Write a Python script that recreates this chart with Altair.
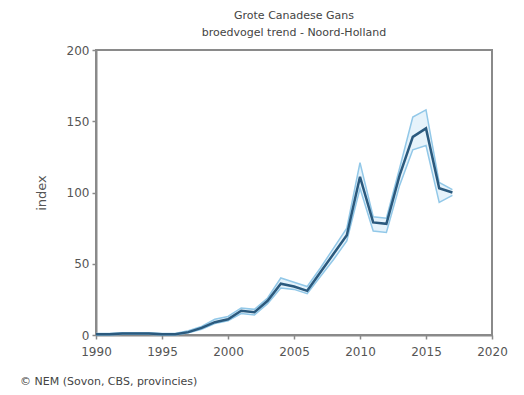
import altair as alt
import pandas as pd

years = list(range(1990, 2018))
index = [0.5, 0.5, 1, 1, 1, 0.5, 0.5, 2, 5, 9, 11, 17, 16, 24, 36, 34, 31, 44, 57, 70,
         111, 79, 78, 112, 139, 145, 103, 100]
upper = [1, 1, 1.5, 1.5, 1.5, 1, 1, 3, 6, 11, 13, 19, 18, 26, 40, 37, 34, 47, 61, 75,
         121, 83, 82, 117, 153, 158, 107, 102]
lower = [0, 0, 0.5, 0.5, 0.5, 0, 0, 1.5, 4, 8, 10, 15, 14, 22, 33, 32, 29, 41, 53, 66,
         103, 73, 72, 105, 130, 133, 93, 98]

title_lines = ["Grote Canadese Gans", "broedvogel trend - Noord-Holland"]
footer = "© NEM (Sovon, CBS, provincies)"
x_ticks = [1990, 1995, 2000, 2005, 2010, 2015, 2020]
y_ticks = [0, 50, 100, 150, 200]

df = pd.DataFrame({"year": years, "index": index, "upper": upper, "lower": lower})

FONT = "DejaVu Sans"
x = alt.X("year:Q", scale=alt.Scale(domain=[1990, 2020], nice=False, zero=False),
          axis=alt.Axis(values=x_ticks, format="d", title=None, grid=False,
                        labelFlush=False, labelPadding=7))
y_axis = alt.Axis(values=y_ticks, title="index", titlePadding=18, grid=False,
                  labelFlush=False, labelPadding=3)
yscale = alt.Scale(domain=[0, 200], nice=False)

band = alt.Chart(df).mark_area(color="#e3f2fb", opacity=0.9).encode(
    x=x, y=alt.Y("lower:Q", scale=yscale, axis=y_axis), y2="upper:Q")
up = alt.Chart(df).mark_line(color="#92c8e8", strokeWidth=1.5).encode(
    x=x, y=alt.Y("upper:Q", scale=yscale))
lo = alt.Chart(df).mark_line(color="#92c8e8", strokeWidth=1.5).encode(
    x=x, y=alt.Y("lower:Q", scale=yscale))
main = alt.Chart(df).mark_line(color="#2b5a7e", strokeWidth=2.5).encode(
    x=x, y=alt.Y("index:Q", scale=yscale))
foot = alt.Chart(pd.DataFrame({"t": [footer]})).mark_text(
    align="left", baseline="middle", font=FONT, fontSize=11, color="#444444"
).encode(x=alt.value(-76), y=alt.value(332), text="t:N")

chart = alt.layer(band, up, lo, main, foot).properties(
    width=396, height=285,
    autosize=alt.AutoSizeParams(type="none"),
    padding={"left": 96, "top": 50, "right": 32, "bottom": 60},
    background="white",
    title=alt.TitleParams(text=title_lines, fontSize=11, font=FONT, fontWeight="normal",
                          color="#444444", anchor="middle", offset=6, lineHeight=17),
).configure_view(stroke="#8a8a8a", strokeWidth=2).configure_axis(
    grid=False, labelFont=FONT, labelFontSize=12, labelColor="#555555",
    titleFont=FONT, titleFontSize=13, titleFontWeight="normal", titleColor="#555555",
    domainColor="#8a8a8a", domainWidth=2, tickColor="#8a8a8a", tickSize=4, tickWidth=1.5,
)

chart.save("out.html", embed_options={"renderer": "svg", "actions": False})
